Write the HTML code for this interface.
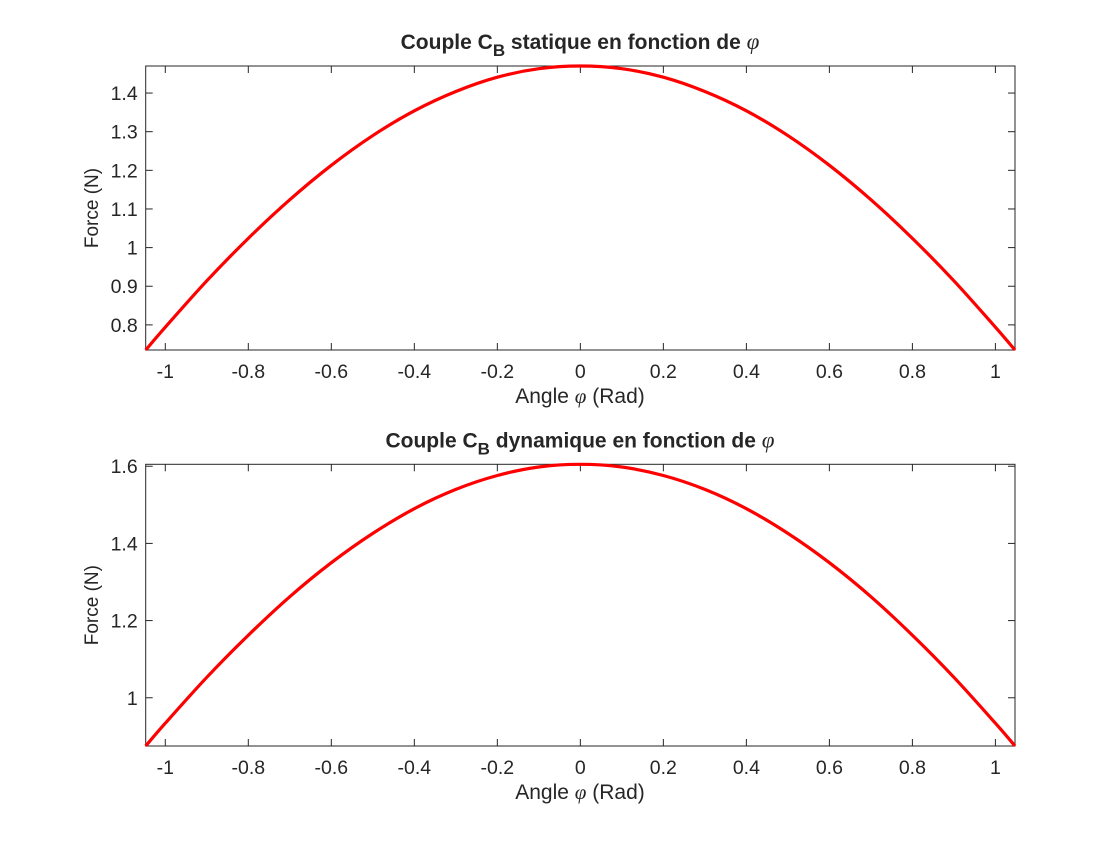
<!DOCTYPE html>
<html><head><meta charset="utf-8"><style>
html,body{margin:0;padding:0;background:#fff;}
svg text{font-family:"Liberation Sans",sans-serif;fill:#262626;}
</style></head><body>
<svg id="chart" width="1120" height="840" xmlns="http://www.w3.org/2000/svg"></svg>
<script>
const phiValues = [-1.0472,-1.0,-0.9,-0.8,-0.7,-0.6,-0.5,-0.4,-0.3,-0.2,-0.1,0,0.1,0.2,0.3,0.4,0.5,0.6,0.7,0.8,0.9,1.0,1.0472];
const staticForce = [0.735,0.794,0.914,1.024,1.124,1.213,1.290,1.354,1.404,1.441,1.463,1.470,1.463,1.441,1.404,1.354,1.290,1.213,1.124,1.024,0.914,0.794,0.735];
const dynamicForce = [0.875,0.934,1.053,1.162,1.262,1.350,1.426,1.490,1.540,1.576,1.598,1.605,1.598,1.576,1.540,1.490,1.426,1.350,1.262,1.162,1.053,0.934,0.875];
const xTicks = [-1,-0.8,-0.6,-0.4,-0.2,0,0.2,0.4,0.6,0.8,1];
const xTickLabels = ["-1","-0.8","-0.6","-0.4","-0.2","0","0.2","0.4","0.6","0.8","1"];
const yTicksTop = [0.8,0.9,1.0,1.1,1.2,1.3,1.4];
const yTickLabelsTop = ["0.8","0.9","1","1.1","1.2","1.3","1.4"];
const yTicksBottom = [1.0,1.2,1.4,1.6];
const yTickLabelsBottom = ["1","1.2","1.4","1.6"];

const NS="http://www.w3.org/2000/svg";
const svg=document.getElementById('chart');
function mk(tag,attrs,parent){const e=document.createElementNS(NS,tag);for(const k in attrs)e.setAttribute(k,attrs[k]);(parent||svg).appendChild(e);return e;}

function drawPanel(cfg){
  const g=mk('g',{});
  
  
  const L=145.7,R=1015,T=cfg.top,B=cfg.bottom;
  const xs=v=>L+(v-(-1.0472))/(2.0944)*(R-L);
  const ys=v=>B-(v-cfg.ymin)/(cfg.ymax-cfg.ymin)*(B-T);
  const box=mk('rect',{x:L,y:T,width:R-L,height:B-T,fill:'#fff',stroke:'#262626','stroke-width':1},g);
  
  
  xTicks.forEach((t,i)=>{
    const x=xs(t);
    mk('line',{x1:x,y1:B,x2:x,y2:B-7,stroke:'#262626'},g);
    mk('line',{x1:x,y1:T,x2:x,y2:T+7,stroke:'#262626'},g);
    const tx=mk('text',{x:x,y:B+28,'text-anchor':'middle','font-size':19.5},g);
    tx.textContent=xTickLabels[i];
    
    
  });
  cfg.yTicks.forEach((t,i)=>{
    const y=ys(t);
    mk('line',{x1:L,y1:y,x2:L+7,y2:y,stroke:'#262626'},g);
    mk('line',{x1:R,y1:y,x2:R-7,y2:y,stroke:'#262626'},g);
    const tx=mk('text',{x:L-8,y:y+7,'text-anchor':'end','font-size':19.5},g);
    tx.textContent=cfg.yLabels[i];
    
    
  });
  const pts=phiValues.map((p,i)=>[xs(p),ys(cfg.data[i])]);
  let d=`M${pts[0][0]},${pts[0][1]}`;
  for(let i=0;i<pts.length-1;i++){
    const p0=pts[Math.max(0,i-1)],p1=pts[i],p2=pts[i+1],p3=pts[Math.min(pts.length-1,i+2)];
    const c1=[p1[0]+(p2[0]-p0[0])/6,p1[1]+(p2[1]-p0[1])/6];
    const c2=[p2[0]-(p3[0]-p1[0])/6,p2[1]-(p3[1]-p1[1])/6];
    d+=` C${c1[0]},${c1[1]} ${c2[0]},${c2[1]} ${p2[0]},${p2[1]}`;
  }
  const line=mk('path',{d:d,fill:'none',stroke:'#ff0000','stroke-width':3.2,'stroke-linejoin':'round'},g);
  
  
  const title=mk('text',{x:580,y:T-17,'text-anchor':'middle','font-size':21,'font-weight':'bold',fill:'#000'},g);
  title.innerHTML=`Couple C<tspan dy="7" font-size="17">B</tspan><tspan dy="-7"> ${cfg.kind} en fonction de </tspan><tspan font-family="Liberation Serif" font-style="italic" font-weight="normal" font-size="23">φ</tspan>`;
  
  
  const xl=mk('text',{x:580,y:B+53,'text-anchor':'middle','font-size':21},g);
  xl.innerHTML=`Angle <tspan font-family="Liberation Serif" font-style="italic">φ</tspan> (Rad)`;
  
  
  const cy=(T+B)/2;
  const yl=mk('text',{x:98,y:cy,'text-anchor':'middle','font-size':19,transform:`rotate(-90 98 ${cy})`},g);
  yl.textContent='Force (N)';
  
  
}
drawPanel({name:'static-panel',seriesName:'static-force-line',kind:'statique',top:66,bottom:350,ymin:0.735,ymax:1.47,yTicks:yTicksTop,yLabels:yTickLabelsTop,data:staticForce});
drawPanel({name:'dynamic-panel',seriesName:'dynamic-force-line',kind:'dynamique',top:464.3,bottom:746,ymin:0.875,ymax:1.605,yTicks:yTicksBottom,yLabels:yTickLabelsBottom,data:dynamicForce});
</script>
</body></html>
